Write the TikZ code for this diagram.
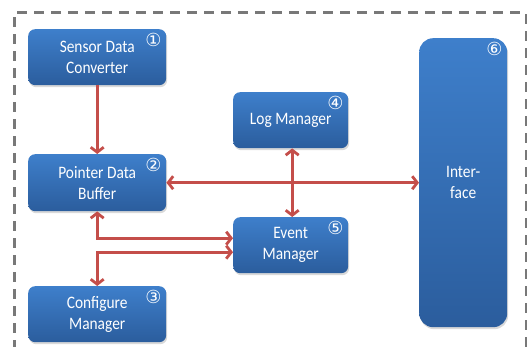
\documentclass[tikz,border=0pt]{standalone}
\usepackage{fontspec}
\setmainfont{Carlito}[FakeStretch=0.88]
\newfontfamily\numfont{DejaVu Sans}
\usetikzlibrary{arrows.meta,shadows,positioning}
\definecolor{boxtop}{RGB}{62,127,203}
\definecolor{boxbot}{RGB}{43,93,157}
\definecolor{linkred}{RGB}{196,78,74}
\definecolor{framegray}{RGB}{120,120,120}
\tikzset{
  module/.style={draw=none, rounded corners=7pt, top color=boxtop, bottom color=boxbot,
    text=white, align=center, font=\fontsize{17.5}{21}\selectfont,
    inner sep=0pt, anchor=north west,
    drop shadow={opacity=0.3, shadow xshift=1pt, shadow yshift=-2pt}},
  badge/.style={text=white, font=\numfont\fontsize{18}{18}\selectfont, inner sep=0pt},
  link/.style={draw=linkred, line width=3.2pt, arrows={-Straight Barb[length=5pt,width=13pt,line width=2.8pt]}},
  biglink/.style={link, arrows={Straight Barb[length=5pt,width=13pt,line width=2.8pt]-Straight Barb[length=5pt,width=13pt,line width=2.8pt]}}
}
\begin{document}
\begin{tikzpicture}[x=1pt,y=1pt]
\useasboundingbox (0,0) rectangle (527,347);
% dashed outer frame
\begin{scope}
\clip (0,0) rectangle (527,347);
\draw[framegray, line width=3pt, dash pattern=on 10pt off 7pt] (14,-20) -- (14,334) -- (526,334) -- (526,-20);
\end{scope}
% modules (positions measured from the top-left corner)
\node[module, minimum width=138pt, minimum height=56pt] (sdc) at (28,347-29) {Sensor Data\\Converter};
\node[module, minimum width=138pt, minimum height=57pt] (pdb) at (28,347-154) {Pointer Data\\Buffer};
\node[module, minimum width=138pt, minimum height=56pt] (cfg) at (28,347-286) {Configure\\Manager};
\node[module, minimum width=115pt, minimum height=56pt] (log) at (233,347-92) {Log Manager};
\node[module, minimum width=115pt, minimum height=56pt] (evt) at (233,347-217) {Event\\Manager};
\node[module, minimum width=88pt, minimum height=289pt, rounded corners=14pt] (ifc) at (419,347-38) {Inter-\\face};
% numbering badges
\node[badge] at ([xshift=-13pt,yshift=-11pt]sdc.north east) {①};
\node[badge] at ([xshift=-13pt,yshift=-11pt]pdb.north east) {②};
\node[badge] at ([xshift=-13pt,yshift=-11pt]cfg.north east) {③};
\node[badge] at ([xshift=-13pt,yshift=-11pt]log.north east) {④};
\node[badge] at ([xshift=-13pt,yshift=-11pt]evt.north east) {⑤};
\node[badge] at ([xshift=-13pt,yshift=-11pt]ifc.north east) {⑥};
% connectors
\draw[link] (sdc.south) -- (pdb.north);
\draw[biglink] (pdb.east) -- (pdb.east -| ifc.west);
\draw[biglink] ([xshift=1.5pt]log.south) -- ([xshift=1.5pt]evt.north);
\draw[biglink] (pdb.south) |- ([yshift=7pt]evt.west);
\draw[biglink] ([yshift=-7pt]evt.west) -| (cfg.north);
\end{tikzpicture}
\end{document}
